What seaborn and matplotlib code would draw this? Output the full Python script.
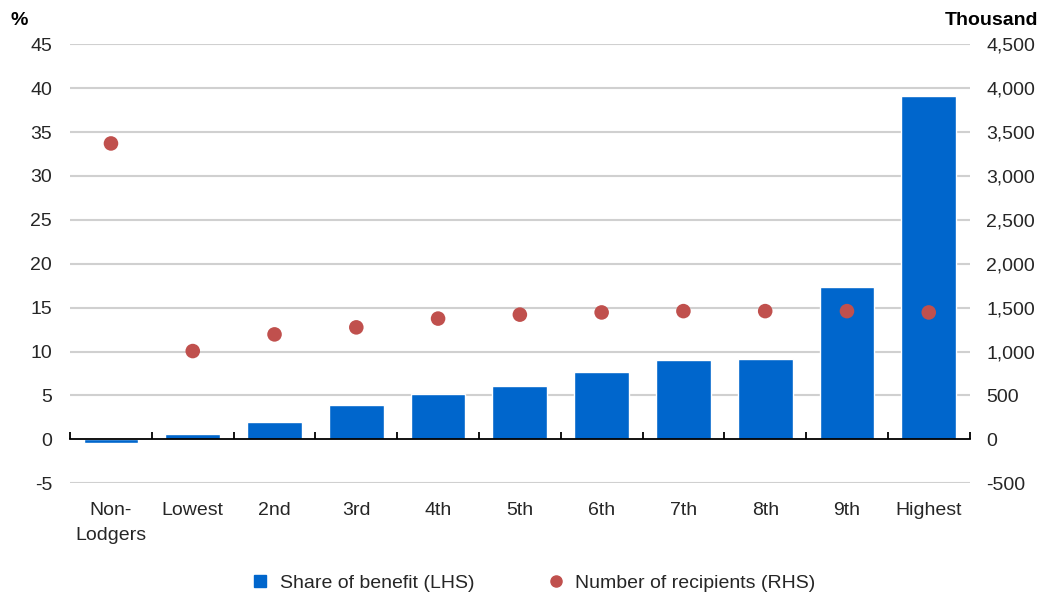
import numpy as np
import pandas as pd
import matplotlib
matplotlib.use("Agg")
import matplotlib.pyplot as plt
from matplotlib.lines import Line2D
from matplotlib.ticker import FuncFormatter
import seaborn as sns

categories = ["Non-\nLodgers", "Lowest", "2nd", "3rd", "4th", "5th",
              "6th", "7th", "8th", "9th", "Highest"]
share_pct = [-0.4, 0.55, 2.0, 3.95, 5.2, 6.1, 7.7, 9.0, 9.2, 17.3, 39.1]
recipients_k = [3370, 1005, 1195, 1275, 1375, 1420, 1445, 1460, 1460, 1460, 1445]

left_ticks = list(range(-5, 50, 5))
right_ticks = list(range(-500, 5000, 500))

BLUE = "#0066CC"
RED = "#C0504D"
TXT = "#262626"
FS = 14

sns.set_theme(style="white")
plt.rcParams["font.family"] = ["Liberation Sans", "DejaVu Sans"]
plt.rcParams["axes.unicode_minus"] = False

df = pd.DataFrame({"cat": categories, "share": share_pct, "rec": recipients_k,
                   "pos": np.arange(len(categories))})

fig = plt.figure(figsize=(10.46, 5.98), dpi=100)
ax = fig.add_axes([0.067, 0.192, 0.86, 0.734])

sns.barplot(data=df, x="cat", y="share", color=BLUE, saturation=1, width=0.67,
            ax=ax, zorder=3)

ax.set_ylim(-5, 45)
ax.set_yticks(left_ticks)
ax.set_xlim(-0.5, len(categories) - 0.5)
for t in left_ticks:
    if t != 0:
        ax.axhline(t, color="#D0D0D0", lw=1.5, zorder=0)

for s in ["top", "left", "right"]:
    ax.spines[s].set_visible(False)
ax.spines["bottom"].set_position(("data", 0))
ax.spines["bottom"].set_color("black")
ax.spines["bottom"].set_linewidth(1.3)
ax.spines["bottom"].set_zorder(4)

ax.set_xticks(np.arange(-0.5, len(categories), 1.0), minor=True)
ax.tick_params(axis="x", which="minor", direction="in", length=5, width=1.3,
               color="black", bottom=True)
ax.tick_params(axis="x", which="major", length=0, pad=45, labelsize=FS,
               labelcolor=TXT)
for lab in ax.get_xticklabels():
    lab.set_linespacing(1.65)
ax.tick_params(axis="y", length=0, pad=13, labelsize=FS, labelcolor=TXT)
ax.set_xlabel("")
ax.set_ylabel("")

ax2 = ax.twinx()
sns.scatterplot(data=df, x="pos", y="rec", color=RED, s=110, edgecolor="none",
                ax=ax2, zorder=5, legend=False)
ax2.set_ylim(-500, 4500)
ax2.set_yticks(right_ticks)
ax2.yaxis.set_major_formatter(FuncFormatter(lambda v, p: f"{int(v):,}"))
ax2.tick_params(axis="y", length=0, pad=12, labelsize=FS, labelcolor=TXT)
ax2.set_ylabel("")
for s in ax2.spines.values():
    s.set_visible(False)

fig.text(0.010, 0.958, "%", fontsize=FS, fontweight="bold", color="black")
fig.text(0.993, 0.958, "Thousand", fontsize=FS, fontweight="bold",
         color="black", ha="right")

handles = [
    Line2D([], [], marker="s", linestyle="none", color=BLUE, markersize=8),
    Line2D([], [], marker="o", linestyle="none", color=RED, markersize=8),
]
fig.legend(handles, ["Share of benefit (LHS)", "Number of recipients (RHS)"],
           loc="center", bbox_to_anchor=(0.505, 0.025), ncol=2, frameon=False,
           fontsize=FS, handletextpad=0.0, columnspacing=3.2, labelcolor=TXT)

fig.savefig("out.png", dpi=100)
